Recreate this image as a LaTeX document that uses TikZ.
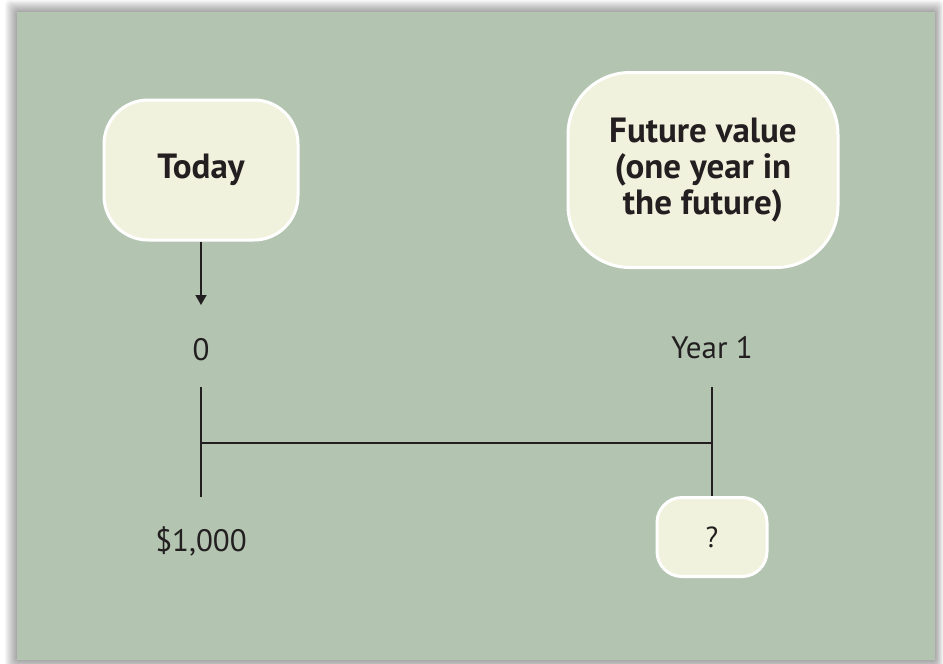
\documentclass[tikz,border=0pt]{standalone}
\usepackage{fontspec}
\setmainfont{PT Sans}
\usetikzlibrary{arrows.meta}
\definecolor{panelgreen}{HTML}{B3C5B1}
\definecolor{boxfill}{HTML}{F1F2DD}
\definecolor{inkdark}{HTML}{231F20}
\tikzset{
bubble/.style={draw=white, line width=3pt, fill=boxfill, text=inkdark,
  align=center, font=\bfseries\fontsize{35}{36}\selectfont},
tick/.style={inkdark, line width=1.6pt},
label/.style={text=inkdark, inner sep=0pt, font=\fontsize{31}{34}\selectfont}
}

\begin{document}
\begin{tikzpicture}[x=1pt,y=-1pt]
\useasboundingbox (0,0) rectangle (943,664);
\fill[white] (0,0) rectangle (943,664);
\foreach \s in {1,...,12}
  \fill[black, opacity=0.03, rounded corners=4pt] (17-\s,12-\s) rectangle (935+0.7*\s,660+\s);
\fill[panelgreen] (17,12) rectangle (935,660);
  \node[bubble, minimum width=194pt, minimum height=140pt, rounded corners=44pt] (today) at (201,170) {Today};
  \node[bubble, minimum width=270pt, minimum height=195pt, rounded corners=62pt] (future) at (703,170) {Future value\\(one year in\\the future)};
  \node[bubble, font=\fontsize{29}{30}\selectfont, minimum width=110pt, minimum height=79pt, rounded corners=25pt] (unknown) at (712,537) {?};
  \node[label] (zero) at (201,350) {0};
  \node[label] (yearone) at (712,348) {Year 1};
  \node[label] (amount) at (201,541) {\$1,000};
\coordinate (lefttop) at (201,387);
\coordinate (leftbot) at (201,497);
\coordinate (leftmid) at (201,443);
\coordinate (righttop) at (712,387);
\coordinate (rightmid) at (712,443);
\draw[tick, -{Triangle[width=11pt,length=10pt]}] (today.south) -- (201,305);
\draw[tick] (lefttop) -- (leftbot);
\draw[tick] (leftmid) -- (rightmid);
\draw[tick] (righttop) -- (unknown.north);
\end{tikzpicture}
\end{document}
